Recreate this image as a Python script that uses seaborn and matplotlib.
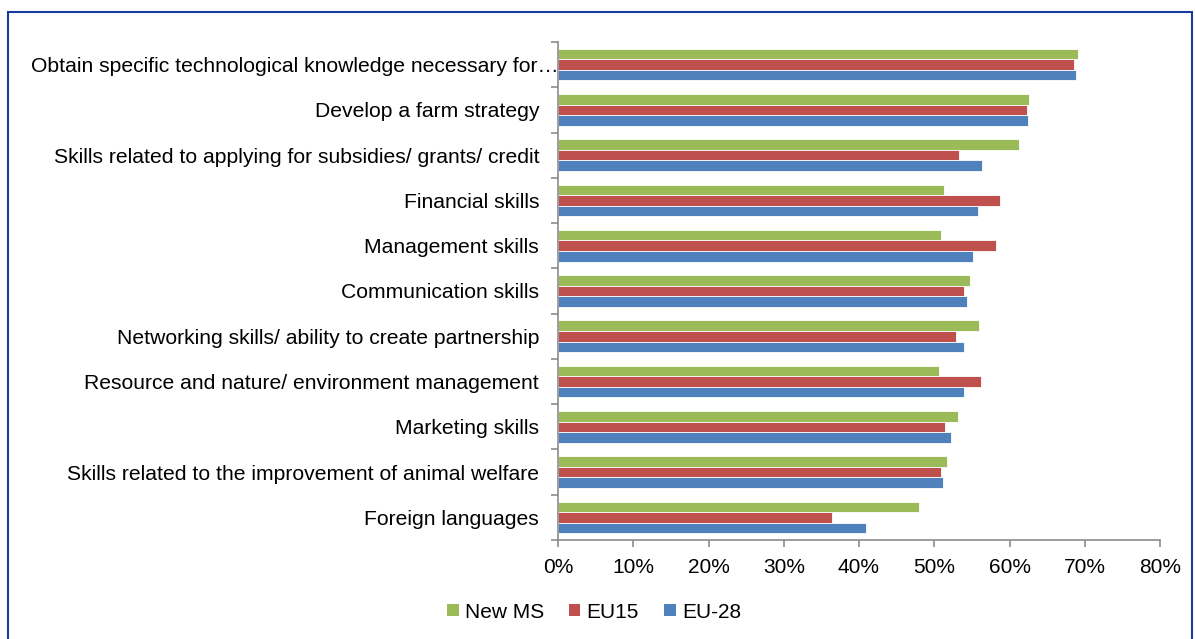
import matplotlib
matplotlib.use("Agg")
import matplotlib.pyplot as plt
import seaborn as sns
import pandas as pd
from matplotlib.patches import Rectangle, Patch
from matplotlib.ticker import FixedLocator, PercentFormatter
from matplotlib.transforms import ScaledTranslation

categories = [
    "Obtain specific technological knowledge necessary for…",
    "Develop a farm strategy",
    "Skills related to applying for subsidies/ grants/ credit",
    "Financial skills",
    "Management skills",
    "Communication skills",
    "Networking skills/ ability to create partnership",
    "Resource and nature/ environment management",
    "Marketing skills",
    "Skills related to the improvement of animal welfare",
    "Foreign languages",
]
series_names = ["New MS", "EU15", "EU-28"]
new_ms = [69.1, 62.6, 61.2, 51.3, 50.9, 54.8, 55.9, 50.6, 53.2, 51.7, 48.0]
eu15 = [68.6, 62.3, 53.3, 58.7, 58.2, 54.0, 52.9, 56.2, 51.4, 50.9, 36.4]
eu28 = [68.8, 62.4, 56.4, 55.8, 55.2, 54.3, 54.0, 54.0, 52.2, 51.2, 40.9]
colors = ["#9BBB59", "#C0504D", "#4F81BD"]
x_ticks = [0, 10, 20, 30, 40, 50, 60, 70, 80]

rows = []
for name, vals in zip(series_names, [new_ms, eu15, eu28]):
    for c, v in zip(categories, vals):
        rows.append({"category": c, "series": name, "value": v})
df = pd.DataFrame(rows)

sns.set_style("white")
plt.rcParams["font.family"] = ["Liberation Sans", "DejaVu Sans"]
plt.rcParams["text.color"] = "#000000"

fig = plt.figure(figsize=(11.95, 6.39), dpi=100)
ax = fig.add_axes([558 / 1195, 1 - 540 / 639, (1160 - 558) / 1195, (540 - 42) / 639])

sns.barplot(data=df, y="category", x="value", hue="series", order=categories,
            hue_order=series_names, palette=colors, orient="h", width=0.7,
            saturation=1, edgecolor="#ffffff", linewidth=0.6, ax=ax, legend=False)

ax.set_xlim(0, 80)
ax.set_ylim(10.5, -0.5)
ax.set_xticks(x_ticks)
ax.xaxis.set_major_formatter(PercentFormatter(decimals=0))
ax.set_xlabel("")
ax.set_ylabel("")

for s in ["top", "right"]:
    ax.spines[s].set_visible(False)
for s in ["left", "bottom"]:
    ax.spines[s].set_color("#8c8c8c")
    ax.spines[s].set_linewidth(1.2)

ax.tick_params(axis="y", which="major", length=0, pad=13.5, labelsize=15.2, labelcolor="#000000")
ax.yaxis.set_minor_locator(FixedLocator([i - 0.5 for i in range(len(categories) + 1)]))
ax.tick_params(axis="y", which="minor", length=5, width=1.2, color="#8c8c8c", direction="out", left=True)
ax.tick_params(axis="x", which="major", length=5, width=1.2, color="#8c8c8c", direction="out",
               bottom=True, labelsize=15, pad=8, labelcolor="#000000")

first = ax.get_yticklabels()[0]
first.set_transform(first.get_transform() + ScaledTranslation(0.19, 0, fig.dpi_scale_trans))

handles = [Patch(facecolor=c, edgecolor="none") for c in colors]
leg = fig.legend(handles, series_names, loc="center", bbox_to_anchor=(594 / 1195, 1 - 612 / 639),
                 ncol=3, frameon=False, fontsize=15, handlelength=0.55, handleheight=0.55,
                 handletextpad=0.3, columnspacing=1.2)
for t in leg.get_texts():
    t.set_color("#000000")

fig.patches.append(Rectangle((8 / 1195, -0.05), (1192 - 8) / 1195, 0.05 + (1 - 12 / 639),
                             transform=fig.transFigure, fill=False,
                             edgecolor="#1A3AA0", linewidth=1.5, zorder=10))

fig.savefig("out.png", dpi=100)
